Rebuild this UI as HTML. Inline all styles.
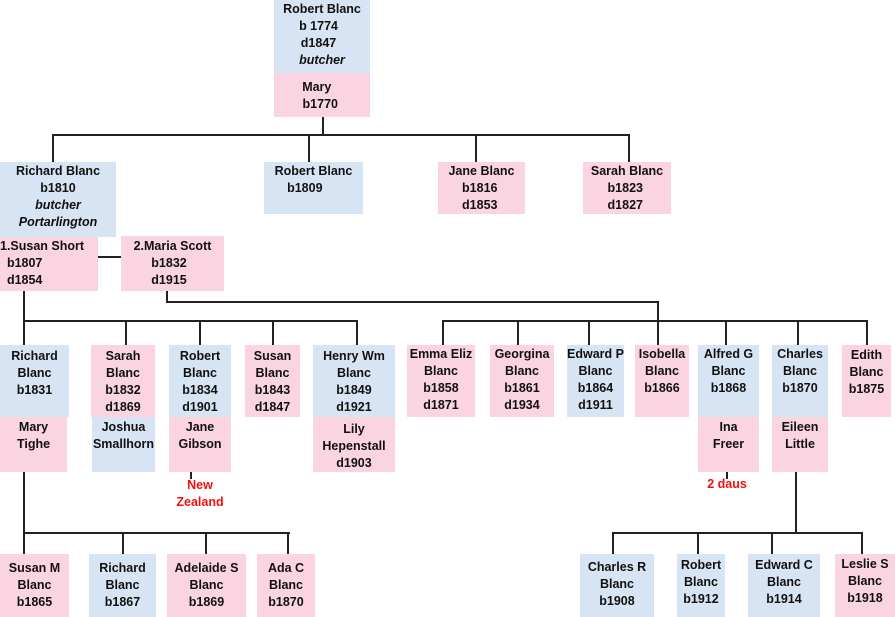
<!DOCTYPE html>
<html><head><meta charset="utf-8"><style>
body{margin:0;width:895px;height:617px;position:relative;background:#fff;overflow:hidden;font-family:"Liberation Sans",sans-serif;font-weight:bold;font-size:12.5px;line-height:17px;color:#111}
.b{position:absolute;box-sizing:border-box;white-space:nowrap;text-align:center;padding-top:1px}
.bl{background:#d6e4f4}.pk{background:#fad4e1}
.l{position:absolute;background:#222}
.r{position:absolute;color:#f01010;text-align:center;white-space:nowrap}
i{font-style:italic}
</style></head><body>
<!-- lines -->
<div class="l" style="left:322px;top:117px;width:2px;height:19px"></div>
<div class="l" style="left:53px;top:134px;width:577px;height:2px"></div>
<div class="l" style="left:52px;top:134px;width:2px;height:28px"></div>
<div class="l" style="left:308px;top:134px;width:2px;height:28px"></div>
<div class="l" style="left:475px;top:134px;width:2px;height:28px"></div>
<div class="l" style="left:628px;top:134px;width:2px;height:28px"></div>
<div class="l" style="left:98px;top:256px;width:23px;height:2px"></div>
<div class="l" style="left:23px;top:291px;width:2px;height:54px"></div>
<div class="l" style="left:23px;top:320px;width:335px;height:2px"></div>
<div class="l" style="left:125px;top:320px;width:2px;height:25px"></div>
<div class="l" style="left:199px;top:320px;width:2px;height:25px"></div>
<div class="l" style="left:272px;top:320px;width:2px;height:25px"></div>
<div class="l" style="left:356px;top:320px;width:2px;height:25px"></div>
<div class="l" style="left:166px;top:291px;width:2px;height:12px"></div>
<div class="l" style="left:166px;top:301px;width:493px;height:2px"></div>
<div class="l" style="left:657px;top:301px;width:2px;height:44px"></div>
<div class="l" style="left:442px;top:320px;width:426px;height:2px"></div>
<div class="l" style="left:442px;top:320px;width:2px;height:25px"></div>
<div class="l" style="left:517px;top:320px;width:2px;height:25px"></div>
<div class="l" style="left:588px;top:320px;width:2px;height:25px"></div>
<div class="l" style="left:725px;top:320px;width:2px;height:25px"></div>
<div class="l" style="left:797px;top:320px;width:2px;height:25px"></div>
<div class="l" style="left:866px;top:320px;width:2px;height:25px"></div>
<div class="l" style="left:23px;top:472px;width:2px;height:82px"></div>
<div class="l" style="left:23px;top:532px;width:267px;height:2px"></div>
<div class="l" style="left:122px;top:532px;width:2px;height:22px"></div>
<div class="l" style="left:205px;top:532px;width:2px;height:22px"></div>
<div class="l" style="left:287px;top:532px;width:2px;height:22px"></div>
<div class="l" style="left:190px;top:472px;width:2px;height:7px"></div>
<div class="l" style="left:726px;top:472px;width:2px;height:7px"></div>
<div class="l" style="left:795px;top:472px;width:2px;height:61px"></div>
<div class="l" style="left:612px;top:532px;width:251px;height:2px"></div>
<div class="l" style="left:612px;top:532px;width:2px;height:22px"></div>
<div class="l" style="left:697px;top:532px;width:2px;height:22px"></div>
<div class="l" style="left:771px;top:532px;width:2px;height:22px"></div>
<div class="l" style="left:861px;top:532px;width:2px;height:22px"></div>

<!-- gen 1 -->
<div class="b bl" style="left:274px;top:0;width:96px;height:73px">Robert Blanc<br>b 1774&nbsp;&nbsp;<br>d1847&nbsp;&nbsp;<br><i>butcher</i></div>
<div class="b pk" style="left:274px;top:73px;width:96px;height:44px;padding-top:6px">Mary&nbsp;&nbsp;&nbsp;<br>b1770&nbsp;</div>
<!-- gen 2 -->
<div class="b bl" style="left:0;top:162px;width:116px;height:75px">Richard Blanc<br>b1810<br><i>butcher</i><br><i>Portarlington</i></div>
<div class="b bl" style="left:264px;top:162px;width:99px;height:52px">Robert Blanc<br>b1809&nbsp;&nbsp;&nbsp;&nbsp;&nbsp;</div>
<div class="b pk" style="left:438px;top:162px;width:87px;height:52px">Jane Blanc<br>b1816&nbsp;<br>d1853&nbsp;</div>
<div class="b pk" style="left:583px;top:162px;width:88px;height:52px">Sarah Blanc<br>b1823&nbsp;<br>d1827&nbsp;</div>
<div class="b pk" style="left:0;top:237px;width:98px;height:54px;text-align:left;padding-left:0">1.Susan Short<br>&nbsp;&nbsp;b1807<br>&nbsp;&nbsp;d1854</div>
<div class="b pk" style="left:121px;top:236px;width:103px;height:55px;padding-top:2px">2.Maria Scott<br>b1832&nbsp;&nbsp;<br>d1915&nbsp;&nbsp;</div>
<!-- gen 3 left -->
<div class="b bl" style="left:0;top:345px;width:69px;height:72px;padding-top:3px">Richard<br>Blanc<br>b1831</div>
<div class="b pk" style="left:0;top:417px;width:67px;height:55px;padding-top:2px">Mary<br>Tighe</div>
<div class="b pk" style="left:91px;top:345px;width:64px;height:72px;padding-top:3px">Sarah<br>Blanc<br>b1832<br>d1869</div>
<div class="b bl" style="left:92px;top:417px;width:63px;height:55px;padding-top:2px">Joshua<br>Smallhorn</div>
<div class="b bl" style="left:169px;top:345px;width:62px;height:72px;padding-top:3px">Robert<br>Blanc<br>b1834<br>d1901</div>
<div class="b pk" style="left:169px;top:417px;width:62px;height:55px;padding-top:2px">Jane<br>Gibson</div>
<div class="b pk" style="left:245px;top:345px;width:55px;height:72px;padding-top:3px">Susan<br>Blanc<br>b1843<br>d1847</div>
<div class="b bl" style="left:313px;top:345px;width:82px;height:72px;padding-top:3px">Henry Wm<br>Blanc<br>b1849<br>d1921</div>
<div class="b pk" style="left:313px;top:417px;width:82px;height:55px;padding-top:4px">Lily<br>Hepenstall<br>d1903</div>
<div class="r" style="left:160px;top:477px;width:80px">New<br>Zealand</div>
<!-- gen 3 right -->
<div class="b pk" style="left:407px;top:345px;width:68px;height:72px">Emma Eliz<br>Blanc<br>b1858<br>d1871</div>
<div class="b pk" style="left:490px;top:345px;width:64px;height:72px">Georgina<br>Blanc<br>b1861<br>d1934</div>
<div class="b bl" style="left:567px;top:345px;width:57px;height:72px">Edward P<br>Blanc<br>b1864<br>d1911</div>
<div class="b pk" style="left:635px;top:345px;width:54px;height:72px">Isobella<br>Blanc<br>b1866</div>
<div class="b bl" style="left:698px;top:345px;width:61px;height:72px">Alfred G<br>Blanc<br>b1868</div>
<div class="b pk" style="left:698px;top:417px;width:61px;height:55px;padding-top:2px">Ina<br>Freer</div>
<div class="b bl" style="left:772px;top:345px;width:56px;height:72px">Charles<br>Blanc<br>b1870</div>
<div class="b pk" style="left:772px;top:417px;width:56px;height:55px;padding-top:2px">Eileen<br>Little</div>
<div class="b pk" style="left:842px;top:345px;width:49px;height:72px;padding-top:2px">Edith<br>Blanc<br>b1875</div>
<div class="r" style="left:697px;top:476px;width:60px">2 daus</div>
<!-- gen 4 -->
<div class="b pk" style="left:0;top:554px;width:69px;height:63px;padding-top:6px">Susan M<br>Blanc<br>b1865</div>
<div class="b bl" style="left:89px;top:554px;width:67px;height:63px;padding-top:6px">Richard<br>Blanc<br>b1867</div>
<div class="b pk" style="left:167px;top:554px;width:79px;height:63px;padding-top:6px">Adelaide S<br>Blanc<br>b1869</div>
<div class="b pk" style="left:257px;top:554px;width:58px;height:63px;padding-top:6px">Ada C<br>Blanc<br>b1870</div>
<div class="b bl" style="left:580px;top:554px;width:74px;height:63px;padding-top:5px">Charles R<br>Blanc<br>b1908</div>
<div class="b bl" style="left:677px;top:554px;width:48px;height:63px;padding-top:3px">Robert<br>Blanc<br>b1912</div>
<div class="b bl" style="left:748px;top:554px;width:72px;height:63px;padding-top:3px">Edward C<br>Blanc<br>b1914</div>
<div class="b pk" style="left:835px;top:554px;width:60px;height:63px;padding-top:2px">Leslie S<br>Blanc<br>b1918</div>
</body></html>
